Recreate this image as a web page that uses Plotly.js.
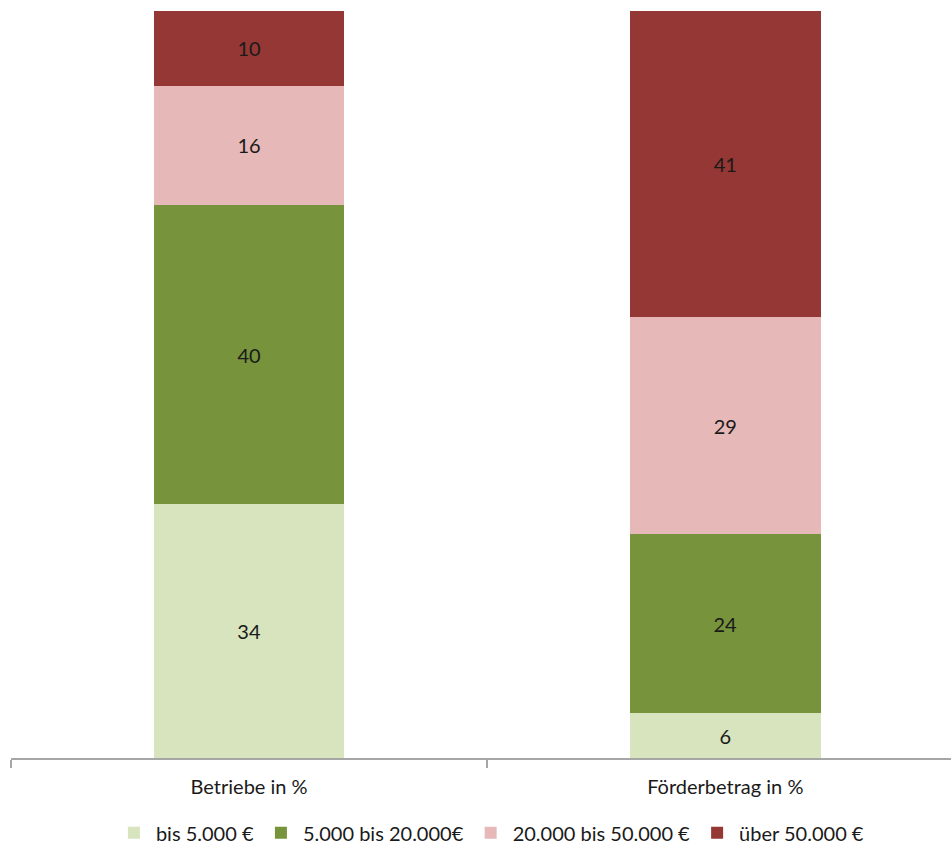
<!DOCTYPE html>
<html><head><meta charset="utf-8">
<script src="https://cdn.plot.ly/plotly-3.0.1.min.js"></script>
<style>body{margin:0;background:#fff}</style>
</head><body>
<div id="chart" style="width:951px;height:846px"></div>
<script>
const categories = ["Betriebe in %", "Förderbetrag in %"];
const seriesNames = ["bis 5.000 €", "5.000 bis 20.000€", "20.000 bis 50.000 €", "über 50.000 €"];
const bis5000 = [34, 6];
const von5000bis20000 = [40, 24];
const von20000bis50000 = [16, 29];
const ueber50000 = [10, 41];
const colors = ["#d7e4bd", "#77933c", "#e6b9b8", "#953735"];

const values = [bis5000, von5000bis20000, von20000bis50000, ueber50000];
const font = "Lato, 'Open Sans', sans-serif";
const traces = values.map((v, i) => ({
  type: "bar",
  name: seriesNames[i],
  x: categories,
  y: v,
  width: 0.4,
  marker: {color: colors[i], line: {width: 0}},
  text: v.map(String),
  textposition: "inside",
  insidetextanchor: "middle",
  textfont: {family: font, size: 20, color: "#1a1a1a"},
  hoverinfo: "none"
}));

const layout = {
  width: 951, height: 846,
  barmode: "stack",
  margin: {l: 11, r: 0, t: 11, b: 88, autoexpand: false},
  paper_bgcolor: "#fff", plot_bgcolor: "#fff",
  showlegend: true,
  legend: {orientation: "h", x: 0.51, xanchor: "center", y: -0.074, yanchor: "top",
    font: {family: font, size: 20, color: "#1a1a1a"}, traceorder: "normal", itemwidth: 34},
  xaxis: {
    type: "category", range: [-0.5, 1.474], fixedrange: true,
    showline: true, linecolor: "#a6a6a6", linewidth: 1.5,
    ticks: "outside", tickson: "boundaries", ticklen: 8, tickcolor: "#a6a6a6", tickwidth: 1.5,
    tickfont: {family: font, size: 20, color: "#1a1a1a"},
    showgrid: false, zeroline: false, ticklabelstandoff: 10, automargin: false
  },
  yaxis: {range: [0, 100], visible: false, showgrid: false, zeroline: false, fixedrange: true},
  font: {family: font}
};
Plotly.newPlot("chart", traces, layout, {displayModeBar: false, staticPlot: true});
</script>
</body></html>
